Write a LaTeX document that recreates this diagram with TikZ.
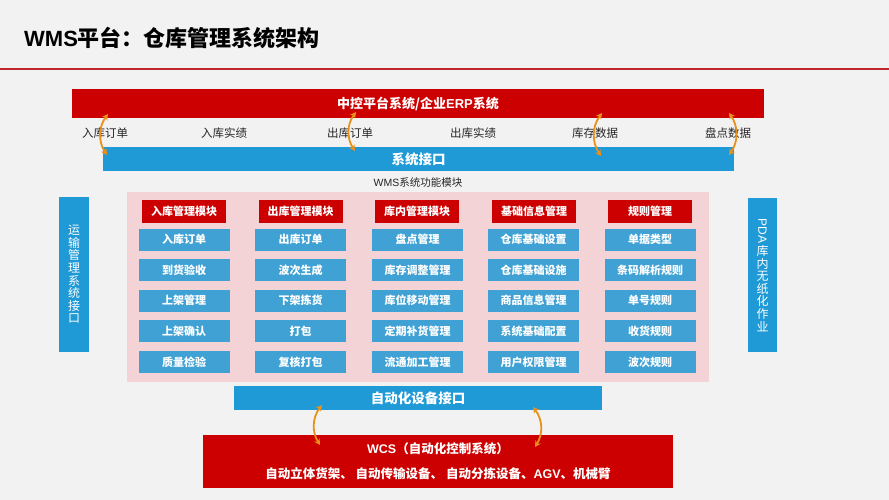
\documentclass[tikz,border=0pt]{standalone}
\usepackage{fontspec}
\setmainfont{Noto Sans CJK SC}
\newfontfamily\lat{Liberation Sans}
\usetikzlibrary{arrows.meta}
\definecolor{bg}{HTML}{F2F2F2}
\definecolor{wred}{HTML}{CC0000}
\definecolor{barblue}{HTML}{1F9AD6}
\definecolor{itemblue}{HTML}{40A2D4}
\definecolor{pinkbg}{HTML}{F3D3D6}
\definecolor{lineRed}{HTML}{C0272D}
\definecolor{arrOrange}{HTML}{E8901C}
\definecolor{txt}{HTML}{262626}
\begin{document}
\begin{tikzpicture}[x=1pt,y=-1pt,
  box/.style={inner sep=0pt, outer sep=0pt, text=white, font=\fontsize{11}{13}\selectfont\bfseries},
  redbar/.style={box, fill=wred},
  bluebar/.style={box, fill=barblue, font=\fontsize{13.5}{16}\selectfont\bfseries},
  header/.style={box, fill=wred, minimum width=84pt, minimum height=23pt},
  item/.style={box, fill=itemblue, minimum width=91pt, minimum height=22pt},
  label/.style={inner sep=0pt, text=txt, font=\fontsize{11.5}{13}\selectfont},
  vtext/.style={box, fill=barblue, font=\fontsize{12}{12.6}\selectfont, align=center},
  curvarrow/.style={draw=arrOrange, line width=1.8pt, {Stealth[length=6pt,width=6.5pt]}-{Stealth[length=6pt,width=6.5pt]}}
]
\fill[bg] (0,0) rectangle (889,500);
\useasboundingbox (0,0) rectangle (889,500);

% title
\node[anchor=west, inner sep=0pt, font=\fontsize{22}{26}\selectfont\bfseries, text=black] (title) at (24,38) {{\lat WMS}平台：仓库管理系统架构};
\coordinate (tl) at (0,69);
\coordinate (tr) at (889,69);
\draw[lineRed, line width=1.4pt] (tl) -- (tr);

% top bars
\node[redbar, minimum width=692pt, minimum height=29pt, font=\fontsize{13}{15}\selectfont\bfseries] (erp) at (418,103.5) {中控平台系统/企业{\lat ERP}系统};
\node[bluebar, minimum width=631pt, minimum height=24pt] (sysif) at (418.5,159) {系统接口};

\node[label] (l1) at (105,133) {入库订单};
\node[label] (l2) at (224,133) {入库实绩};
\node[label] (l3) at (350,133) {出库订单};
\node[label] (l4) at (473,133) {出库实绩};
\node[label] (l5) at (595,133) {库存数据};
\node[label] (l6) at (728,133) {盘点数据};

\node[label, font=\fontsize{10.5}{12}\selectfont] (wmsfm) at (418,182) {{\lat WMS}系统功能模块};

% pink area
\node[inner sep=0pt, outer sep=0pt, fill=pinkbg, minimum width=582pt, minimum height=190pt] (pink) at (418,287) {};

% side boxes
\node[vtext, minimum width=30pt, minimum height=155pt] (tms) at (74,274.5) {运\\输\\管\\理\\系\\统\\接\\口};
\node[vtext, minimum width=29pt, minimum height=154pt] (pda) at (762.5,275) {\rotatebox{-90}{\lat PDA}\\[1pt]库\\内\\无\\纸\\化\\作\\业};

% headers
\node[header] (h1) at (184,211.5) {入库管理模块};
\node[header] (h2) at (300.5,211.5) {出库管理模块};
\node[header] (h3) at (417,211.5) {库内管理模块};
\node[header] (h4) at (534,211.5) {基础信息管理};
\node[header] (h5) at (650,211.5) {规则管理};

% items col1
\node[item] (a1) at (184,239.5) {入库订单};
\node[item] (a2) at (184,270) {到货验收};
\node[item] (a3) at (184,300.5) {上架管理};
\node[item] (a4) at (184,331) {上架确认};
\node[item] (a5) at (184,362) {质量检验};
% col2
\node[item] (b1) at (300.5,239.5) {出库订单};
\node[item] (b2) at (300.5,270) {波次生成};
\node[item] (b3) at (300.5,300.5) {下架拣货};
\node[item] (b4) at (300.5,331) {打包};
\node[item] (b5) at (300.5,362) {复核打包};
% col3
\node[item] (c1) at (417.5,239.5) {盘点管理};
\node[item] (c2) at (417.5,270) {库存调整管理};
\node[item] (c3) at (417.5,300.5) {库位移动管理};
\node[item] (c4) at (417.5,331) {定期补货管理};
\node[item] (c5) at (417.5,362) {流通加工管理};
% col4
\node[item] (d1) at (533.5,239.5) {仓库基础设置};
\node[item] (d2) at (533.5,270) {仓库基础设施};
\node[item] (d3) at (533.5,300.5) {商品信息管理};
\node[item] (d4) at (533.5,331) {系统基础配置};
\node[item] (d5) at (533.5,362) {用户权限管理};
% col5
\node[item] (e1) at (650,239.5) {单据类型};
\node[item] (e2) at (650,270) {条码解析规则};
\node[item] (e3) at (650,300.5) {单号规则};
\node[item] (e4) at (650,331) {收货规则};
\node[item] (e5) at (650,362) {波次规则};

% bottom bars
\node[bluebar, minimum width=368pt, minimum height=24pt] (autoif) at (418,398) {自动化设备接口};
\node[redbar, minimum width=470pt, minimum height=53pt, align=center, font=\fontsize{12.5}{25}\selectfont\bfseries] (wcs) at (438,461.5) {{\lat WCS}（自动化控制系统）\\自动立体货架、 自动传输设备、 自动分拣设备、{\lat AGV}、机械臂};

% curved arrows (top)
\coordinate (p1a) at (108,114); \coordinate (p1b) at (107,155);
\coordinate (p2a) at (356,112); \coordinate (p2b) at (355,151);
\coordinate (p3a) at (602,113); \coordinate (p3b) at (601,156);
\coordinate (p4a) at (729,113); \coordinate (p4b) at (729,155);
\draw[curvarrow] (p1a) to[bend right=35] (p1b);
\draw[curvarrow] (p2a) to[bend right=35] (p2b);
\draw[curvarrow] (p3a) to[bend right=35] (p3b);
\draw[curvarrow] (p4a) to[bend left=35] (p4b);
% curved arrows (bottom)
\coordinate (q1a) at (322,405); \coordinate (q1b) at (320,445);
\coordinate (q2a) at (533,407); \coordinate (q2b) at (535,447);
\draw[curvarrow] (q1a) to[bend right=35] (q1b);
\draw[curvarrow] (q2a) to[bend left=35] (q2b);
\end{tikzpicture}
\end{document}
